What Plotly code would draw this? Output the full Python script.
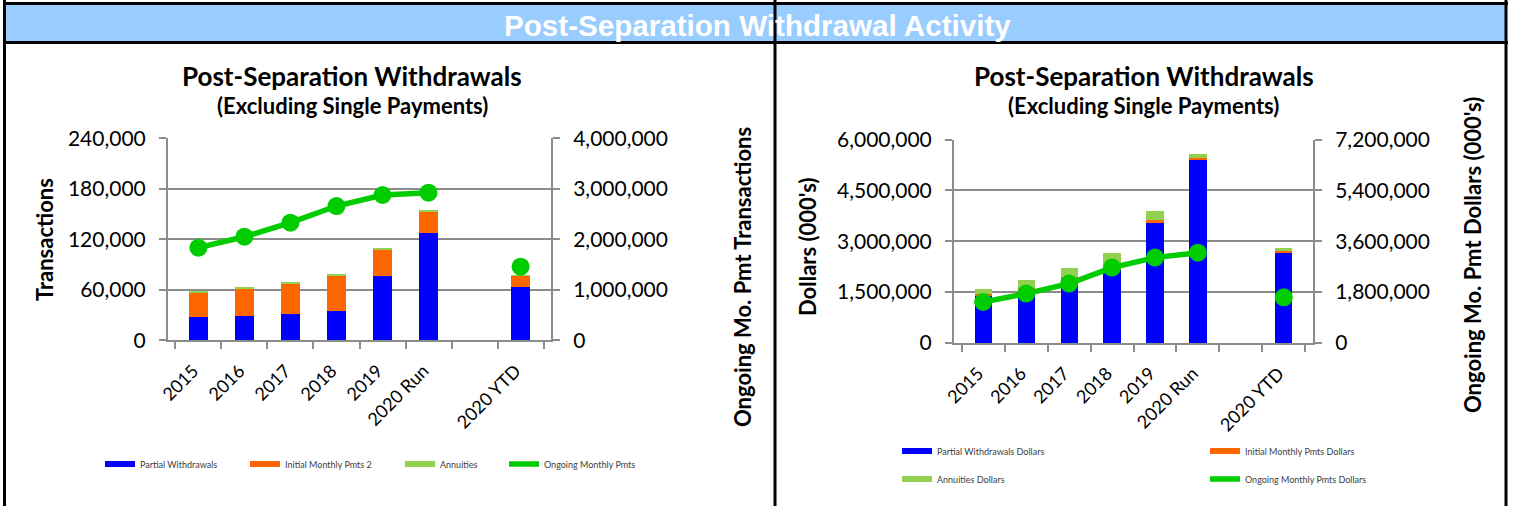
import plotly.graph_objects as go

W, H = 1513, 506

years = ["2015", "2016", "2017", "2018", "2019", "2020 Run", " ", "2020 YTD"]

# Left chart: transactions
partial_tx = [28000, 29200, 31600, 35200, 76800, 127100, None, 63700]
initial_tx = [28200, 32100, 36100, 41600, 30800, 25700, None, 12700]
annuity_tx = [1200, 1700, 1600, 2000, 1200, 800, None, 600]
ongoing_tx = [1834000, 2051000, 2329000, 2659000, 2877000, 2923000, None, 1458000]

# Right chart: dollars (000's)
partial_usd = [1425000, 1583000, 1916000, 2170000, 3538000, 5416000, None, 2692000]
initial_usd = [30000, 25000, 30000, 35000, 79000, 48000, None, 50000]
annuity_usd = [128000, 240000, 256000, 460000, 274000, 108000, None, 50000]
ongoing_usd = [1451000, 1748000, 2102000, 2668000, 3021000, 3195000, None, 1617000]

tx_ticks = [0, 60000, 120000, 180000, 240000]
tx_ticks2 = [0, 1000000, 2000000, 3000000, 4000000]
usd_ticks = [0, 1500000, 3000000, 4500000, 6000000]
usd_ticks2 = [0, 1800000, 3600000, 5400000, 7200000]

BLUE = "#0000FF"
ORANGE = "#FF6600"
LIME = "#92D050"
GREEN = "#00CC00"
GRID = "#8C8C8C"
FONT = "Lato"


def px(x):
    return x / W


def py(y):
    return 1 - y / H


fig = go.Figure()


def add_chart(xa, ya, ya2, legs, names, partial, initial, annuity, ongoing):
    # stacked bars
    for vals, color, name, leg in zip([partial, initial, annuity], [BLUE, ORANGE, LIME], names[:3], legs[:3]):
        fig.add_trace(go.Bar(x=years, y=vals, width=0.4, marker_color=color, marker_line_width=0,
                             xaxis=xa, yaxis=ya, showlegend=False, name=name))
        # legend swatch (wide flat bar look)
        fig.add_trace(go.Scatter(x=[None], y=[None], mode="lines", name=name, legend=leg,
                                 line=dict(color=color, width=6), xaxis=xa, yaxis=ya))
    # ongoing line + markers
    fig.add_trace(go.Scatter(x=years, y=ongoing, mode="lines", name=names[3], legend=legs[3],
                             line=dict(color=GREEN, width=5.5), xaxis=xa, yaxis=ya2))
    fig.add_trace(go.Scatter(x=years, y=ongoing, mode="markers", showlegend=False, name=names[3],
                             marker=dict(color=GREEN, size=18), xaxis=xa, yaxis=ya2))


add_chart("x", "y", "y2", ["legend", "legend2", "legend3", "legend4"],
          ["Partial Withdrawals", "Initial Monthly Pmts 2", "Annuities", "Ongoing Monthly Pmts"],
          partial_tx, initial_tx, annuity_tx, ongoing_tx)
add_chart("x2", "y3", "y4", ["legend5", "legend6", "legend7", "legend8"],
          ["Partial Withdrawals Dollars", "Initial Monthly Pmts Dollars", "Annuities Dollars",
           "Ongoing Monthly Pmts Dollars"],
          partial_usd, initial_usd, annuity_usd, ongoing_usd)

xcommon = dict(type="category", categoryorder="array", categoryarray=years, tickson="boundaries",
               ticks="outside", ticklen=7, tickwidth=2, tickcolor=GRID, showline=True, linecolor=GRID,
               linewidth=2, tickangle=-45, tickfont=dict(family=FONT, size=18, color="black"),
               showgrid=False, fixedrange=True, automargin=False, ticklabelstandoff=11, ticklabelshift=-5)
ycommon = dict(showline=True, linecolor=GRID, linewidth=2, ticks="outside", ticklen=7, tickwidth=2,
               tickcolor=GRID, tickformat=",", tickfont=dict(family=FONT, size=21, color="black"),
               zeroline=False, ticklabelstandoff=9, fixedrange=True, automargin=False)
legfont = dict(family=FONT, size=9, color="#404040")

# legend item positions (text start x, row y) in pixels
leg_pos = {
    "legend": (140, 464), "legend2": (285, 464), "legend3": (440, 464), "legend4": (544, 464),
    "legend5": (937, 451), "legend6": (1245, 451), "legend7": (937, 479), "legend8": (1245, 479),
}
legends = {k: dict(orientation="h", x=px(x - 40), y=py(y), xanchor="left", yanchor="middle",
                   font=legfont, bgcolor="rgba(0,0,0,0)") for k, (x, y) in leg_pos.items()}

fig.update_layout(
    width=W, height=H, margin=dict(l=0, r=0, t=0, b=0, pad=0, autoexpand=False),
    paper_bgcolor="white", plot_bgcolor="white", barmode="stack",
    xaxis=dict(domain=[px(168), px(551)], anchor="y", **xcommon),
    yaxis=dict(domain=[py(340.3), py(138.3)], anchor="x", range=[0, 240000], tickvals=tx_ticks,
               showgrid=True, gridcolor=GRID, gridwidth=2, **ycommon),
    yaxis2=dict(overlaying="y", side="right", anchor="x", range=[0, 4000000], tickvals=tx_ticks2,
                showgrid=False, **ycommon),
    xaxis2=dict(domain=[px(954), px(1313)], anchor="y3", **xcommon),
    yaxis3=dict(domain=[py(343), py(139.5)], anchor="x2", range=[0, 6000000], tickvals=usd_ticks,
                showgrid=True, gridcolor=GRID, gridwidth=2, **ycommon),
    yaxis4=dict(overlaying="y3", side="right", anchor="x2", range=[0, 7200000], tickvals=usd_ticks2,
                showgrid=False, **ycommon),
    **legends,
)

# Header band and table frame
fig.add_shape(type="rect", xref="paper", yref="paper", x0=px(5), x1=px(1506), y0=py(42), y1=py(4),
              fillcolor="#99CCFF", line_width=0)
for y in [3.5, 42.5]:
    fig.add_shape(type="line", xref="paper", yref="paper", x0=px(3), x1=px(1508), y0=py(y), y1=py(y),
                  line=dict(color="black", width=3))
for x in [4.5, 775, 1506]:
    fig.add_shape(type="line", xref="paper", yref="paper", x0=px(x), x1=px(x), y0=0, y1=1,
                  line=dict(color="black", width=3))

ann = [
    dict(text="Post-Separation Withdrawal Activity", x=px(757), y=py(25), size=29.6,
         family="Liberation Sans", color="white", angle=0),
    dict(text="Post-Separation Withdrawals", x=px(352), y=py(76), size=26, family=FONT, color="black", angle=0),
    dict(text="(Excluding Single Payments)", x=px(352), y=py(105), size=22, family=FONT, color="black", angle=0),
    dict(text="Post-Separation Withdrawals", x=px(1144), y=py(76), size=26, family=FONT, color="black", angle=0),
    dict(text="(Excluding Single Payments)", x=px(1143), y=py(105), size=22, family=FONT, color="black", angle=0),
    dict(text="Transactions", x=px(45), y=py(240), size=22, family=FONT, color="black", angle=-90),
    dict(text="Ongoing Mo. Pmt Transactions", x=px(742), y=py(277), size=22, family=FONT, color="black", angle=-90),
    dict(text="Dollars (000's)", x=px(807), y=py(247), size=22, family=FONT, color="black", angle=-90),
    dict(text="Ongoing Mo. Pmt Dollars (000's)", x=px(1472), y=py(255), size=22, family=FONT, color="black",
         angle=-90),
]
for a in ann:
    fig.add_annotation(text=a["text"], x=a["x"], y=a["y"], xref="paper", yref="paper", showarrow=False,
                       xanchor="center", yanchor="middle", textangle=a["angle"],
                       font=dict(family=a["family"], size=a["size"], color=a["color"], weight="bold"))

# page body has a default 8px margin; remove it so the figure sits at the window origin
fig.write_html("out.html", config={"displayModeBar": False},
               post_script="document.body.style.margin='0';")
